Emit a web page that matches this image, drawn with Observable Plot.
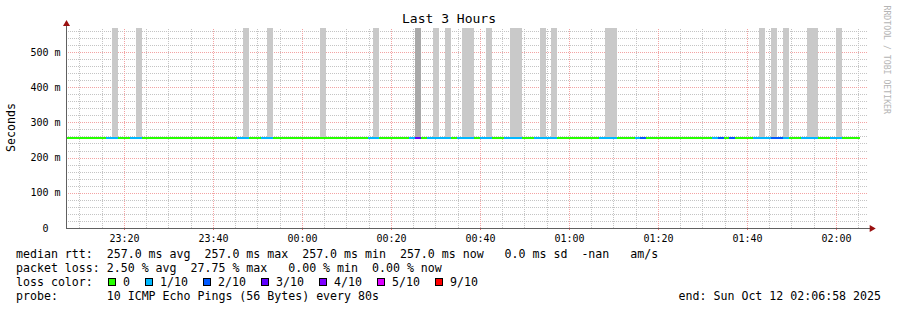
<!DOCTYPE html>
<html><head><meta charset="utf-8">
<script src="https://cdn.jsdelivr.net/npm/d3@7"></script>
<script src="https://cdn.jsdelivr.net/npm/@observablehq/plot@0.6"></script>
<style>
html,body{margin:0;padding:0;background:#fff;}
#wrap{position:relative;width:897px;height:310px;overflow:hidden;font-family:"DejaVu Sans Mono",monospace;background:#fff;}
#wrap svg{position:absolute;left:0;top:0;}
.lg{position:absolute;font-size:11.6px;line-height:14px;white-space:pre;color:#000;}
.box{position:absolute;width:8px;height:8px;box-sizing:border-box;border:1px solid #000;top:278px;}
</style></head><body><div id="wrap"></div>
<script>
// ---- data ----
const startTime = "23:06:58";
const endTime = "02:06:58";
const stepSeconds = 80;
const medianRtt = 257;
const yTop = 568;
const yMajorTicks = [0, 100, 200, 300, 400, 500];
const yTickLabels = ["0\u00a0\u00a0", "100 m", "200 m", "300 m", "400 m", "500 m"];
const xMajorTicks = ["23:20", "23:40", "00:00", "00:20", "00:40", "01:00", "01:20", "01:40", "02:00"];
const lineEnd = "02:05:24";

// smoke (grey) bars: start time, length in steps, number of high pings
const smokeFrom = ["23:17:24","23:22:44","23:46:44","23:52:04","00:04:04","00:16:04","00:25:24","00:29:24","00:32:04","00:36:04",
                   "00:41:24","00:46:44","00:53:24","00:56:04","01:08:04","01:42:44","01:45:24","01:48:04","01:53:24","02:00:04"];
const smokeSteps = [1,1,1,1,1,1,1,1,1,2, 1,2,1,1,2,1,1,1,2,1];
const smokeHits  = [1,1,1,1,1,1,3,1,1,1, 1,1,1,1,1,1,1,1,1,1];

// packet-loss colouring of the median line: start time, length in steps, loss level (x/10)
const lossFrom = ["23:16:04","23:21:24","23:45:24","23:50:44","00:14:44","00:24:04","00:25:24","00:28:04","00:34:44","00:40:04",
                  "00:45:24","00:52:04","01:06:44","01:14:44","01:16:04","01:32:04","01:33:24","01:36:04","01:41:24","01:45:24",
                  "01:48:04","01:52:04","01:58:44"];
const lossSteps = [2,2,2,2,2,1,1,4,3,2, 3,4,3,1,1,1,1,1,3,2, 1,3,2];
const lossLevel = [1,1,1,1,1,1,3,1,1,1, 1,1,1,1,2,1,2,2,1,2, 1,1,1];

const lossLabels = ["0","1/10","2/10","3/10","4/10","5/10","9/10"];
const lossColors = ["#26ff00","#00b8ff","#0059ff","#5e00ff","#7e00ff","#dd00ff","#ff0000"];

const legendLines = [
  "median rtt:  257.0 ms avg  257.0 ms max  257.0 ms min  257.0 ms now   0.0 ms sd  -nan   am/s",
  "packet loss: 2.50 % avg  27.75 % max   0.00 % min  0.00 % now",
  "loss color:",
  "probe:       10 ICMP Echo Pings (56 Bytes) every 80s"
];
const endLabel = "end: Sun Oct 12 02:06:58 2025";

// ---- helpers ----
function tmin(s) { const [h, m, sec = 0] = s.split(":").map(Number); return (h >= 12 ? h - 23 : h + 1) * 60 + m + sec / 60; }
const t0 = tmin(startTime), t1 = tmin(endTime);
const stepMin = stepSeconds / 60;
const xMinor = d3.range(10, 186, 5).filter(v => v % 20 !== 0);
const yMinor = d3.range(20, yTop, 20).filter(v => v % 100 !== 0);
const minorC = "#c4c4c4", majorC = "#f3a3a3", dash = "1,1", crisp = "crispEdges";
const smokeIdx = d3.range(smokeFrom.length);
const lossIdx = d3.range(lossFrom.length);
const xTickVals = xMajorTicks.map(tmin);

const chart = Plot.plot({
  width: 897, height: 246,
  marginLeft: 66, marginRight: 30, marginTop: 28, marginBottom: 18,
  x: {type: "linear", domain: [t0, t1], axis: null},
  y: {type: "linear", domain: [0, yTop], axis: null},
  style: {fontFamily: "DejaVu Sans Mono", background: "white", color: "#000", overflow: "visible"},
  marks: [
    Plot.ruleY(yMinor, {stroke: minorC, strokeDasharray: dash, shapeRendering: crisp}),
    Plot.ruleX(xMinor, {y1: 0, y2: yTop, stroke: minorC, strokeDasharray: dash, shapeRendering: crisp}),
    Plot.ruleY(yMajorTicks.slice(1), {stroke: majorC, strokeDasharray: dash, shapeRendering: crisp}),
    Plot.ruleX(xTickVals, {y1: 0, y2: yTop, stroke: majorC, strokeDasharray: dash, shapeRendering: crisp}),
    Plot.rect(smokeIdx, {
      x1: i => tmin(smokeFrom[i]), x2: i => tmin(smokeFrom[i]) + smokeSteps[i] * stepMin,
      y1: () => medianRtt, y2: () => yTop,
      fill: i => smokeHits[i] > 1 ? "#a9a9a9" : "#c9c9c9", shapeRendering: crisp
    }),
    Plot.ruleY([medianRtt], {x1: t0, x2: tmin(lineEnd), stroke: lossColors[0], strokeWidth: 2, shapeRendering: crisp}),
    Plot.ruleY(lossIdx, {
      y: () => medianRtt,
      x1: i => tmin(lossFrom[i]), x2: i => tmin(lossFrom[i]) + lossSteps[i] * stepMin,
      stroke: i => lossColors[lossLevel[i]], strokeWidth: 2, shapeRendering: crisp
    }),
    // axes
    Plot.ruleX(xTickVals, {y1: 0, y2: -6, stroke: "#e87070", shapeRendering: crisp}),
    Plot.ruleX([t0], {y1: 0, y2: 580, stroke: "#606060", shapeRendering: crisp}),
    Plot.ruleY([0], {x1: t0, x2: t1 + 0.9, stroke: "#606060", shapeRendering: crisp}),
    Plot.dot([t0], {x: d => d, y: () => 581, symbol: "triangle", r: 2.6, fill: "#9a1010", stroke: null}),
    Plot.dot([t1 + 0.95], {x: d => d, y: () => 0, symbol: "triangle", rotate: 90, r: 2.6, fill: "#9a1010", stroke: null}),
    Plot.text(xMajorTicks, {x: d => tmin(d), y: () => 0, dy: 10, lineAnchor: "middle", textAnchor: "middle", text: d => d, fontSize: 10, fill: "#000"}),
    Plot.text(yMajorTicks, {y: d => d, frameAnchor: "left", textAnchor: "end", lineAnchor: "middle", dx: -6, text: (d, i) => yTickLabels[i], fontSize: 10, fill: "#000"}),
    Plot.text(["Last 3 Hours"], {frameAnchor: "top", textAnchor: "middle", lineAnchor: "middle", dx: -18, dy: -9.5, fontSize: 13, fill: "#000"}),
    Plot.text(["Seconds"], {frameAnchor: "left", textAnchor: "middle", lineAnchor: "middle", dx: -55, dy: -1, rotate: -90, fontSize: 11.6, fill: "#000"}),
    Plot.text(["RRDTOOL / TOBI OETIKER"], {frameAnchor: "top-right", dx: 19, dy: -23, rotate: 90, textAnchor: "start", lineAnchor: "middle", fontSize: 8.2, fill: "#b4b4b4"})
  ]
});
const wrap = document.getElementById("wrap");
wrap.appendChild(chart);

// legend below the chart
const tops = [247, 261, 275, 289];
legendLines.forEach((t, i) => {
  const d = document.createElement("div");
  d.className = "lg"; d.style.left = "16px"; d.style.top = tops[i] + "px"; d.textContent = t;
  wrap.appendChild(d);
});
let lx = 108;
lossLabels.forEach((lab, i) => {
  const b = document.createElement("div");
  b.className = "box"; b.style.left = lx + "px"; b.style.background = lossColors[i];
  wrap.appendChild(b);
  const s = document.createElement("div");
  s.className = "lg"; s.style.left = (lx + 15) + "px"; s.style.top = tops[2] + "px"; s.textContent = lab;
  wrap.appendChild(s);
  lx += 15 + 7 * lab.length + 15;
});
const e = document.createElement("div");
e.className = "lg"; e.style.right = "16px"; e.style.top = tops[3] + "px"; e.textContent = endLabel;
wrap.appendChild(e);
</script></body></html>
